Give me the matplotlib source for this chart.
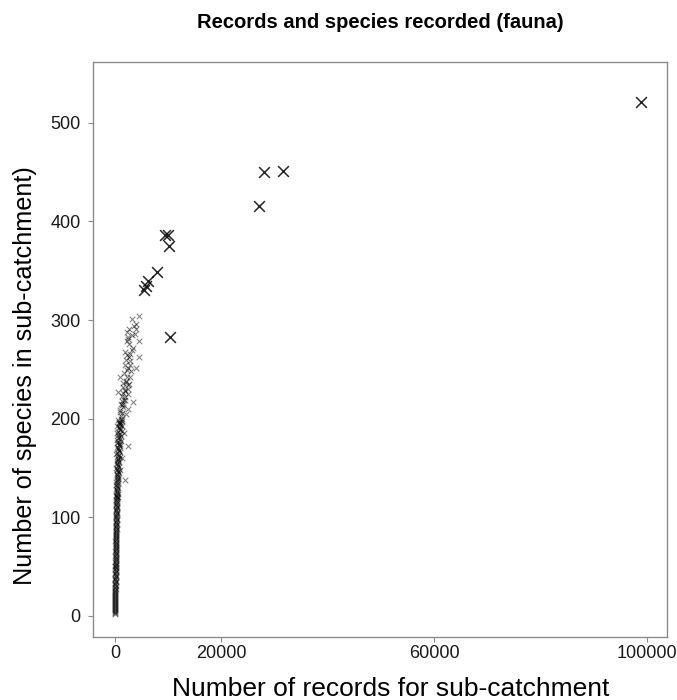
import matplotlib
matplotlib.use("Agg")
import matplotlib.pyplot as plt

# --- data --------------------------------------------------------------------
# dense column of sub-catchments with few records
col_records = [20, 35, 15, 50, 30, 60, 45, 25, 70, 40, 85, 55, 30, 95, 65, 110,
               45, 80, 125, 60, 100, 140, 75, 115, 155, 90, 130, 60, 170, 105,
               145, 185, 120, 80, 200, 160, 135, 215, 100, 175, 230, 150, 250,
               190, 120, 270, 210, 165, 290, 230, 140, 310, 250, 190, 340, 270,
               210, 370, 300, 160, 400, 330, 240, 430, 360, 280, 470, 390, 200,
               510, 420, 320, 550, 450, 260, 600, 480, 370, 650, 520, 300, 700,
               560, 420, 760, 600, 350, 820, 650, 480, 880, 700, 400, 950, 750,
               540, 1020, 800, 460, 1100, 860, 600, 1180, 920, 520, 1250, 980,
               700, 1320, 1050, 760, 1400, 1120]
col_species = [3, 5, 7, 9, 11, 12, 14, 16, 18, 19, 21, 23, 25, 26, 28, 30,
               32, 33, 35, 37, 39, 40, 42, 44, 46, 47, 49, 51, 53, 54,
               56, 58, 60, 61, 63, 65, 67, 68, 70, 72, 74, 75, 77,
               79, 81, 82, 84, 86, 88, 89, 91, 93, 95, 96, 98, 100,
               102, 103, 105, 107, 109, 110, 112, 114, 116, 117, 119, 121, 123,
               124, 126, 128, 130, 131, 133, 135, 137, 138, 140, 142, 144, 145,
               147, 149, 151, 152, 154, 156, 158, 159, 161, 163, 165, 166, 168,
               170, 172, 173, 175, 177, 179, 180, 182, 184, 186, 187, 189,
               191, 193, 194, 196, 198, 200]

col2_records = [10, 25, 45, 20, 65, 40, 90, 30, 55, 75, 35, 100, 60, 80, 120,
                50, 95, 140, 70, 110, 160, 85, 130, 55, 180, 105, 150, 200, 75,
                125, 220, 170, 95, 240, 140, 190, 260, 115, 210, 280, 160, 310,
                230, 135, 330, 250, 180, 360, 280, 150, 390, 300, 210, 420, 330,
                250, 460, 360, 180, 500, 400, 290, 540, 430, 220, 590, 470, 330,
                640, 510, 260, 700, 560, 380, 760, 600, 300, 830, 650, 440, 900,
                700, 350, 980, 760, 500, 1050, 1300, 900, 1500, 1150, 1700,
                1350, 1900, 1600, 2100]
col2_species = [2, 4, 6, 8, 10, 13, 15, 17, 20, 22, 24, 27, 29, 31, 34, 36,
                38, 41, 43, 45, 48, 50, 52, 55, 57, 59, 62, 64, 66, 69, 71, 73,
                76, 78, 80, 83, 85, 87, 90, 92, 94, 97, 99, 101, 104, 106, 108,
                111, 113, 115, 118, 120, 122, 125, 127, 129, 132, 134, 136, 139,
                141, 143, 146, 148, 150, 153, 155, 157, 160, 162, 164, 167, 169,
                171, 174, 176, 178, 181, 183, 185, 188, 190, 192, 195, 197, 199,
                203, 206, 209, 212, 215, 219, 223, 228, 232, 237]

# scattered small points at the top of the column
mid_records = [4514, 3140, 3950, 3950, 2690, 2200, 3140, 2500, 4514, 2200,
               1880, 2820, 4514, 2070, 1880, 2820, 2500, 3950, 940, 2200,
               1560, 2500, 2820, 630, 1560, 2500, 3440, 1880, 1260, 2500,
               940, 1260, 940, 940, 2500, 940, 1880, 940, 1700, 1300, 600,
               1700, 2100, 2400, 1900, 2900, 3300, 2600, 3600, 2300, 3000,
               1500, 2000, 2700, 3800, 2400, 3200, 1800, 2600, 1400, 2200]
mid_species = [304, 301, 296, 291, 291, 288, 285, 283, 279, 279,
               268, 266, 262, 259, 254, 254, 251, 251, 242, 242,
               236, 234, 242, 227, 226, 225, 217, 219, 214, 210,
               207, 200, 197, 195, 172, 174, 138, 148, 185, 160, 120,
               246, 238, 230, 222, 258, 272, 276, 294, 264, 248,
               215, 205, 235, 286, 281, 270, 229, 262, 218, 249]

# sub-catchments with many records (drawn with larger crosses)
big_records = [5500, 5900, 6300, 7900, 9400, 9900, 10150, 10350, 27000,
               28000, 31600, 98900]
big_species = [330, 334, 340, 349, 386, 386, 375, 283, 416, 450, 451, 521]

fig = plt.figure(figsize=(6.77, 7.0), dpi=100)
plt.rcParams["font.family"] = ["Liberation Sans", "DejaVu Sans"]
ax = fig.add_axes([0.1378, 0.0893, 0.8474, 0.8226])

small = dict(marker="x", s=16, color="black", alpha=0.5, linewidths=0.75)
ax.scatter(col_records, col_species, **small)
ax.scatter(col2_records, col2_species, **small)
ax.scatter(mid_records, mid_species, **small)
ax.scatter(big_records, big_species, marker="x", s=60, color="black",
           alpha=0.85, linewidths=1.1)

ax.set_xlim(-4080, 103800)
ax.set_ylim(-22, 562)
ax.set_xticks([0, 20000, 60000, 100000])
ax.set_yticks([0, 100, 200, 300, 400, 500])
ax.tick_params(length=3.6, width=0.8, color="#8c8c8c", labelsize=13,
               labelcolor="#1a1a1a")
ax.tick_params(axis="y", pad=5.5)
ax.tick_params(axis="x", pad=2)
for spine in ax.spines.values():
    spine.set_color("#8c8c8c")
    spine.set_linewidth(1.0)

fig.text(380 / 677, 1 - 22 / 700, "Records and species recorded (fauna)",
         ha="center", va="center", fontsize=14.5, fontweight="bold")
fig.text(391 / 677, 1 - 689 / 700, "Number of records for sub-catchment",
         ha="center", va="center", fontsize=19)
fig.text(25 / 677, 1 - 376 / 700, "Number of species in sub-catchment)",
         ha="center", va="center", fontsize=18.2, rotation=90)

fig.savefig("out.png", dpi=100)
